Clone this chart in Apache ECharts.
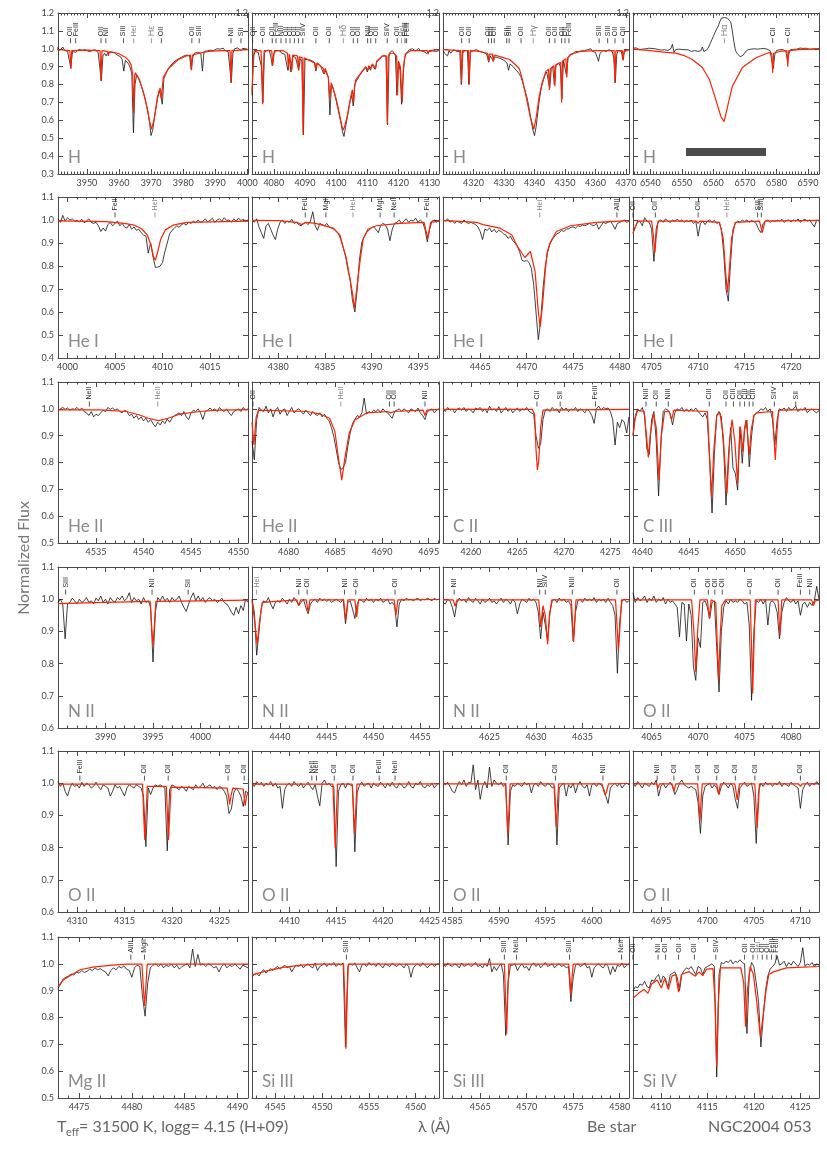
<!DOCTYPE html>
<html>
<head>
<meta charset="utf-8">
<script src="https://cdn.jsdelivr.net/npm/echarts@6/dist/echarts.min.js"></script>
<style>
  html, body { margin: 0; background: #fff; }
  #chart { width: 827px; height: 1168px; }
</style>
</head>
<body>
<div id="chart"></div>
<script>
// ---- panel titles and wavelength windows (Angstrom) ----
const panelNames = ['H', 'H', 'H', 'H', 'He I', 'He I', 'He I', 'He I', 'He II', 'He II', 'C II', 'C III',
  'N II', 'N II', 'N II', 'O II', 'O II', 'O II', 'O II', 'O II', 'Mg II', 'Si III', 'Si III', 'Si IV'];
const xRanges = [[3941, 4000.2], [4073, 4133], [4310, 4371], [6534.5, 6593.5],
  [3999, 4019], [4377.2, 4397.2], [4461, 4481], [4703, 4723],
  [4531, 4551], [4676.1, 4696.1], [4257, 4277], [4639, 4659],
  [3985, 4005], [4437, 4457], [4620, 4640], [4063, 4083],
  [4308, 4328], [4406, 4426], [4584, 4604], [4692, 4712],
  [4473, 4491], [4542.5, 4562.5], [4561, 4581], [4107, 4127]];
const yRanges = [[0.3, 1.2], [0.4, 1.1], [0.5, 1.1], [0.6, 1.1], [0.6, 1.1], [0.5, 1.1]];

// observed spectra: start wavelength and step, fluxes in units of 1/1000
const obsGrid = [[3940, 0.5], [4073, 0.5], [4310, 0.5], [6534.5, 0.5],
  [3999, 0.25], [4377.2, 0.25], [4461, 0.25], [4703, 0.25],
  [4531, 0.25], [4676.1, 0.25], [4257, 0.25], [4639, 0.25],
  [3985, 0.25], [4437, 0.25], [4620, 0.25], [4063, 0.25],
  [4308, 0.25], [4406, 0.25], [4584, 0.25], [4692, 0.25],
  [4473, 0.25], [4542.5, 0.25], [4561, 0.25], [4107, 0.25]];

const hEpsObs = [
  1000, 993, 1005, 990, 998, 1010, 992, 995, 985, 990,
  890, 985, 995, 980, 990, 996, 985, 992, 987, 995,
  990, 985, 993, 988, 990, 995, 985, 980, 975, 820,
  960, 975, 960, 978, 985, 980, 975, 978, 970, 965,
  962, 955, 940, 875, 935, 930, 915, 895, 860, 530,
  800, 855, 840, 815, 790, 765, 730, 690, 645, 590,
  515, 545, 610, 665, 720, 765, 740, 690, 835, 855,
  875, 890, 905, 912, 925, 930, 938, 945, 948, 955,
  958, 962, 965, 966, 960, 885, 955, 975, 978, 980,
  983, 975, 875, 985, 990, 988, 995, 992, 998, 990,
  995, 1000, 992, 998, 995, 1003, 990, 997, 985, 900,
  810, 975, 1000, 995, 1005, 998, 990, 1002, 995, 1000,
  998];
const hDelObs = [
  740, 960, 985, 990, 980, 985, 900, 700, 975, 990,
  985, 992, 960, 905, 975, 985, 990, 982, 988, 975,
  985, 970, 960, 880, 955, 870, 960, 955, 950, 940,
  880, 945, 930, 520, 940, 945, 940, 945, 935, 930,
  925, 875, 920, 915, 905, 900, 860, 880, 870, 840,
  630, 800, 780, 750, 710, 670, 630, 590, 540, 510,
  560, 610, 660, 710, 740, 680, 800, 820, 810, 850,
  860, 875, 885, 895, 870, 900, 880, 910, 915, 885,
  925, 935, 945, 955, 960, 965, 960, 575, 975, 985,
  990, 980, 965, 740, 930, 880, 690, 860, 950, 975,
  985, 995, 990, 1000, 992, 988, 995, 1002, 990, 995,
  985, 990, 975, 970, 985, 995, 988, 993, 985, 995,
  990];
const hGamObs = [
  990, 975, 985, 960, 990, 975, 985, 995, 990, 985,
  992, 985, 800, 975, 990, 985, 990, 800, 980, 985,
  990, 985, 995, 990, 985, 990, 980, 985, 975, 960,
  925, 960, 945, 930, 955, 960, 950, 955, 945, 940,
  935, 930, 920, 880, 915, 905, 900, 895, 880, 870,
  860, 845, 820, 790, 760, 730, 690, 640, 590, 545,
  515, 560, 630, 700, 760, 800, 830, 855, 870, 860,
  780, 885, 900, 800, 905, 915, 920, 900, 720, 935,
  945, 850, 950, 965, 975, 970, 980, 985, 990, 985,
  992, 988, 995, 990, 985, 995, 990, 1000, 985, 990,
  980, 975, 930, 975, 985, 990, 995, 985, 990, 995,
  990, 985, 950, 810, 970, 990, 995, 985, 940, 985,
  995, 990, 995];
const hAlpObs = [
  1003, 998, 1005, 1000, 995, 1002, 998, 1006, 1000, 996,
  1003, 997, 1002, 995, 1000, 1004, 996, 999, 993, 1000,
  995, 1002, 990, 996, 1000, 1025, 980, 995, 990, 998,
  992, 996, 990, 995, 988, 994, 992, 985, 993, 990,
  995, 986, 992, 988, 1010, 985, 990, 995, 1010, 1030,
  1050, 1070, 1090, 1110, 1125, 1150, 1170, 1160, 1175, 1165,
  1170, 1160, 1150, 1100, 1040, 990, 975, 970, 955, 950,
  965, 980, 985, 995, 990, 998, 993, 1000, 995, 998,
  992, 1000, 996, 1002, 995, 998, 993, 990, 935, 890,
  970, 990, 998, 995, 1000, 996, 1000, 985, 935, 975,
  995, 1000, 997, 1003, 998, 1000, 1004, 998, 1002, 999,
  1003, 1000, 997, 1002, 999, 1003, 1000, 998, 1001];
const he4009Obs = [
  1005, 990, 1020, 995, 1010, 1000, 1005, 995, 998, 992, 1003, 988,
  995, 1005, 990, 985, 990, 975, 950, 965, 952, 980, 990, 975,
  985, 995, 975, 985, 970, 965, 980, 960, 970, 955, 960, 945,
  935, 930, 856, 900, 840, 794, 795, 800, 815, 863, 900, 940,
  955, 964, 975, 968, 980, 985, 978, 990, 985, 995, 988, 1000,
  990, 995, 1005, 992, 998, 1008, 990, 1000, 1005, 995, 1010, 998,
  1000, 990, 1005, 995, 1008, 998, 1003, 995, 1000];
const he4388Obs = [
  1000, 990, 1005, 970, 945, 920, 975, 985, 960, 935, 915, 960,
  990, 1000, 985, 995, 990, 1003, 985, 990, 980, 975, 985, 990,
  980, 995, 1036, 975, 955, 985, 980, 975, 985, 970, 965, 960,
  950, 940, 915, 880, 845, 785, 740, 650, 600, 700, 830, 905,
  925, 945, 955, 965, 970, 960, 945, 975, 985, 980, 960, 910,
  960, 985, 990, 1000, 985, 995, 1005, 990, 1000, 995, 1008, 990,
  1000, 990, 960, 905, 960, 995, 1000, 990, 1000];
const he4471Obs = [
  1000, 995, 1005, 990, 998, 985, 995, 990, 985, 1000, 990, 985,
  990, 985, 980, 970, 950, 915, 960, 955, 965, 948, 960, 945,
  955, 950, 940, 935, 920, 930, 910, 900, 885, 860, 825, 820,
  825, 815, 790, 720, 600, 480, 560, 700, 800, 860, 895, 915,
  930, 940, 945, 955, 950, 960, 962, 968, 970, 965, 975, 972,
  978, 975, 980, 985, 978, 975, 985, 960, 975, 990, 985, 990,
  995, 980, 960, 985, 990, 995, 1000, 990, 995];
const he4713Obs = [
  945, 970, 990, 995, 975, 1010, 995, 990, 960, 820, 965, 995,
  1000, 990, 1005, 995, 990, 1000, 995, 1003, 995, 1000, 990, 998,
  993, 1000, 985, 995, 930, 985, 995, 980, 995, 1000, 990, 998,
  985, 990, 960, 860, 700, 647, 820, 960, 985, 995, 990, 1000,
  993, 1000, 990, 998, 993, 985, 960, 945, 985, 995, 1000, 990,
  998, 993, 1000, 995, 1003, 990, 998, 1000, 992, 1000, 995, 1005,
  990, 998, 1003, 995, 1000, 985, 970, 1000, 995];
const he4542Obs = [
  995, 1000, 1005, 998, 1003, 995, 1000, 998, 1005, 995, 1003, 990,
  985, 975, 990, 970, 980, 975, 985, 995, 990, 1005, 998, 1003,
  995, 1000, 990, 985, 995, 990, 975, 980, 965, 975, 960, 970,
  955, 965, 950, 960, 945, 933, 950, 940, 955, 945, 962, 950,
  965, 975, 980, 985, 975, 990, 970, 960, 985, 995, 990, 1000,
  985, 960, 990, 995, 1003, 995, 1000, 990, 1005, 995, 990, 1000,
  985, 975, 990, 995, 1000, 990, 1005, 995, 1000];
const he4686Obs = [
  880, 810, 960, 1005, 995, 990, 1010, 985, 1000, 970, 995, 1005,
  980, 995, 1000, 975, 990, 1005, 985, 995, 1000, 990, 980, 995,
  985, 975, 990, 980, 975, 985, 970, 980, 965, 955, 930, 896,
  850, 800, 774, 780, 800, 860, 910, 945, 960, 975, 970, 985,
  1040, 980, 990, 985, 995, 990, 998, 985, 1000, 990, 985, 975,
  965, 990, 995, 1000, 990, 1000, 993, 985, 1000, 995, 990, 1003,
  985, 975, 960, 990, 995, 1000, 985, 995, 1000];
const c4267Obs = [
  1000, 990, 1005, 995, 1000, 985, 998, 1003, 995, 1005, 990, 1000,
  995, 985, 1003, 998, 1005, 990, 1000, 985, 1010, 995, 1000, 990,
  1008, 985, 995, 1005, 990, 1000, 985, 995, 1003, 990, 1000, 995,
  1005, 990, 985, 980, 900, 853, 870, 960, 995, 1000, 990, 1005,
  995, 1000, 985, 1005, 995, 1003, 990, 1000, 995, 1005, 990, 1000,
  995, 985, 1000, 990, 975, 946, 1000, 1010, 995, 1005, 1000, 1003,
  990, 960, 865, 950, 930, 960, 950, 910, 970];
const c4647Obs = [
  900, 975, 1000, 990, 1005, 975, 850, 830, 960, 990, 880, 675,
  880, 990, 1000, 995, 980, 940, 985, 1000, 995, 1005, 990, 1000,
  990, 1000, 993, 1003, 990, 980, 970, 985, 960, 800, 612, 830,
  975, 990, 970, 850, 641, 820, 930, 780, 760, 697, 930, 797,
  920, 958, 784, 900, 975, 985, 990, 1000, 995, 1005, 990, 1000,
  960, 865, 960, 1000, 995, 1003, 990, 1005, 995, 1000, 1010, 990,
  1000, 995, 1005, 985, 995, 1000, 990, 985, 995];
const n3995Obs = [
  990, 1000, 985, 877, 985, 990, 1003, 995, 985, 1000, 990, 995,
  1005, 990, 995, 985, 1003, 995, 1010, 990, 1000, 985, 1005, 995,
  990, 1005, 998, 1010, 995, 1003, 1020, 990, 1005, 995, 1000, 985,
  1005, 990, 995, 975, 805, 960, 1005, 995, 1010, 995, 1003, 990,
  1005, 995, 1000, 1010, 990, 975, 962, 985, 1005, 1020, 995, 1010,
  995, 1005, 990, 1000, 1005, 995, 1000, 990, 995, 1003, 990, 985,
  975, 960, 950, 975, 955, 980, 965, 1000, 990];
const n4447Obs = [
  1000, 960, 826, 900, 975, 995, 990, 1005, 985, 970, 990, 995,
  990, 1003, 995, 985, 1000, 990, 1005, 995, 980, 990, 1000, 975,
  955, 985, 995, 1000, 990, 1003, 995, 1000, 993, 1000, 990, 995,
  1000, 995, 990, 1000, 924, 990, 995, 970, 940, 985, 1000, 995,
  990, 1003, 995, 1000, 990, 1000, 995, 1003, 990, 995, 1000, 985,
  990, 980, 914, 985, 1000, 995, 1003, 998, 1000, 995, 1000, 1003,
  995, 1000, 998, 1003, 1000, 995, 1003, 998, 1000];
const n4630Obs = [
  990, 985, 1000, 995, 975, 945, 990, 1003, 995, 1000, 990, 1005,
  995, 990, 1003, 995, 985, 1000, 990, 995, 1003, 990, 995, 985,
  995, 1003, 990, 1000, 995, 985, 1000, 990, 955, 985, 1000, 995,
  990, 1003, 995, 1000, 990, 960, 877, 960, 920, 870, 960, 995,
  1000, 990, 1003, 995, 1000, 990, 995, 980, 870, 960, 995, 1000,
  990, 1003, 995, 1000, 995, 1005, 990, 1000, 995, 1000, 990, 1003,
  990, 980, 950, 770, 930, 995, 1000, 990, 995];
const o4072Obs = [
  1020, 990, 1005, 995, 1000, 1010, 990, 1003, 995, 1010, 990, 1000,
  995, 1005, 985, 1000, 990, 995, 985, 975, 883, 990, 985, 870,
  985, 950, 790, 748, 880, 850, 990, 995, 975, 940, 990, 995,
  850, 712, 900, 975, 995, 985, 1000, 990, 995, 990, 1000, 995,
  985, 990, 920, 686, 900, 995, 990, 1000, 985, 1000, 920, 990,
  995, 985, 960, 877, 960, 990, 1005, 995, 990, 1000, 985, 995,
  950, 985, 990, 975, 990, 980, 995, 1040, 1000];
const o4317Obs = [
  1005, 990, 1000, 975, 960, 985, 1000, 990, 995, 985, 1003, 990,
  1000, 995, 985, 990, 1003, 990, 980, 995, 990, 985, 960, 975,
  995, 985, 990, 975, 960, 985, 995, 990, 985, 995, 990, 985,
  960, 803, 985, 965, 985, 995, 990, 995, 990, 985, 790, 980,
  995, 990, 985, 980, 990, 985, 975, 990, 985, 980, 995, 985,
  990, 1000, 985, 990, 995, 985, 990, 980, 990, 985, 975, 960,
  906, 920, 970, 985, 975, 960, 928, 975, 970];
const o4415Obs = [
  1000, 990, 1005, 995, 1003, 990, 1000, 995, 1005, 990, 1000, 985,
  990, 922, 980, 995, 1000, 990, 1005, 995, 990, 1000, 985, 995,
  1003, 990, 980, 995, 960, 930, 1000, 1010, 995, 1000, 990, 990,
  741, 975, 995, 1000, 985, 1000, 995, 990, 787, 970, 995, 1003,
  990, 998, 1000, 985, 1000, 993, 990, 1003, 995, 985, 1000, 990,
  1003, 990, 985, 1000, 995, 985, 990, 1005, 990, 985, 1000, 995,
  1005, 990, 985, 995, 990, 1000, 985, 995, 1000];
const o4591Obs = [
  1000, 995, 1003, 990, 975, 970, 990, 1005, 995, 1010, 990, 1003,
  1000, 1057, 980, 1010, 950, 990, 1005, 985, 1050, 990, 1010, 1000,
  995, 1003, 990, 1000, 808, 975, 995, 990, 1000, 995, 990, 1003,
  995, 1000, 970, 995, 1000, 990, 1005, 995, 990, 1000, 995, 985,
  990, 808, 985, 995, 1000, 960, 995, 985, 1000, 970, 995, 1005,
  990, 985, 995, 960, 995, 1000, 990, 1000, 995, 985, 960, 937,
  985, 995, 1000, 990, 1000, 985, 995, 1000, 995];
const o4705Obs = [
  1000, 990, 1005, 995, 985, 1000, 995, 990, 1003, 995, 1010, 960,
  990, 1000, 985, 995, 1003, 990, 965, 980, 1000, 1010, 995, 990,
  985, 990, 985, 980, 940, 844, 960, 990, 995, 1000, 985, 995,
  985, 965, 990, 1003, 995, 985, 1000, 990, 950, 922, 985, 995,
  1003, 990, 995, 1000, 960, 813, 975, 1000, 990, 1003, 995, 1000,
  990, 1000, 995, 1005, 990, 1000, 995, 990, 1003, 995, 990, 985,
  922, 980, 995, 1003, 990, 1000, 995, 1005, 995];
const mg4481Obs = [
  908, 925, 944, 950, 955, 962, 958, 970, 965, 975, 968, 972,
  980, 975, 985, 978, 982, 975, 970, 955, 975, 985, 978, 990,
  985, 992, 980, 975, 950, 985, 995, 990, 880, 805, 930, 985,
  995, 1000, 990, 1000, 985, 995, 990, 1000, 985, 995, 980, 990,
  995, 1000, 985, 1055, 990, 1035, 995, 1000, 990, 1000, 995, 985,
  990, 970, 990, 1000, 985, 995, 990, 1000, 990, 980, 995, 990,
  985];
const si4553Obs = [
  953, 960, 965, 955, 970, 978, 965, 975, 982, 975, 985, 990,
  980, 988, 995, 985, 990, 970, 985, 995, 990, 998, 985, 995,
  1000, 990, 985, 1003, 975, 990, 995, 1003, 990, 1000, 995, 1005,
  990, 1000, 995, 1003, 690, 990, 1000, 995, 1003, 985, 970, 995,
  1000, 990, 1005, 995, 1000, 990, 1003, 995, 985, 1000, 995, 990,
  1003, 995, 990, 1000, 995, 985, 1000, 990, 950, 985, 995, 1000,
  990, 1003, 995, 985, 995, 1000, 990, 998, 1000];
const si4568Obs = [
  1000, 990, 1003, 995, 990, 1000, 995, 985, 1003, 990, 995, 1000,
  990, 995, 1005, 990, 995, 985, 1000, 990, 1020, 970, 990, 975,
  990, 1000, 960, 733, 930, 995, 995, 1000, 975, 990, 1000, 985,
  990, 975, 995, 1003, 990, 1000, 985, 995, 1005, 990, 995, 1000,
  985, 995, 1000, 990, 995, 985, 990, 859, 950, 995, 1000, 990,
  995, 1003, 985, 990, 950, 985, 995, 1000, 990, 985, 1000, 990,
  960, 990, 970, 995, 990, 1003, 985, 995, 1000];
const si4116Obs = [
  900, 915, 910, 925, 920, 935, 915, 910, 940, 935, 950, 960,
  930, 955, 945, 910, 960, 965, 970, 950, 900, 960, 975, 985,
  980, 990, 975, 960, 990, 985, 960, 985, 990, 995, 1000, 990,
  578, 960, 1005, 1000, 1010, 1005, 1015, 1000, 1010, 1005, 1015, 1005,
  1000, 740, 960, 1005, 990, 930, 860, 690, 800, 900, 955, 980,
  990, 1000, 1030, 995, 1000, 1010, 990, 1005, 995, 1010, 1000, 990,
  1005, 1060, 990, 1000, 995, 1005, 990, 1000, 995];

// model spectra: [wavelength, normalized flux]
const hEpsModel = [[3940, 0.997], [3944.7, 0.99], [3945, 0.89], [3945.3, 0.99], [3950, 0.993], [3954.1, 0.99], [3954.4, 0.82], [3954.7, 0.99],
  [3956.5, 0.985], [3956.7, 0.96], [3956.9, 0.983], [3958, 0.982], [3960, 0.972], [3962, 0.953], [3963, 0.935], [3963.8, 0.91], [3964.3, 0.85],
  [3964.6, 0.64], [3964.9, 0.85], [3965.1, 0.866], [3966.4, 0.826], [3968, 0.73], [3969, 0.65], [3969.6, 0.59], [3970.1, 0.55], [3970.9, 0.6],
  [3972, 0.73], [3972.8, 0.78], [3973.0, 0.76], [3973.25, 0.72], [3973.5, 0.78], [3973.8, 0.84], [3975.4, 0.89], [3978.5, 0.94], [3981, 0.96],
  [3982.3, 0.965], [3982.6, 0.88], [3982.9, 0.965], [3985, 0.975], [3988, 0.985], [3992, 0.99], [3994.6, 0.99], [3994.9, 0.81], [3995.2, 0.99], [4000.2, 0.995]];
const hDelModel = [[4073, 0.76], [4073.3, 0.9], [4073.7, 0.99], [4075.9, 0.99], [4076.2, 0.85], [4076.4, 0.69], [4076.6, 0.85], [4076.9, 0.99],
  [4079.3, 0.99], [4079.5, 0.95], [4079.7, 0.91], [4079.9, 0.95], [4080.2, 0.99], [4082.9, 0.99], [4084.4, 0.975], [4084.7, 0.88], [4085.0, 0.97],
  [4085.5, 0.97], [4085.8, 0.88], [4086.1, 0.965], [4087.6, 0.96], [4087.9, 0.88], [4088.2, 0.955], [4089.1, 0.95], [4089.4, 0.52], [4089.7, 0.95],
  [4090.3, 0.95], [4093.2, 0.92], [4093.5, 0.88], [4093.8, 0.92], [4095.9, 0.89], [4096.2, 0.86], [4096.5, 0.89], [4097.5, 0.84], [4098.0, 0.72],
  [4098.4, 0.81], [4099, 0.78], [4100, 0.72], [4101, 0.64], [4101.8, 0.57], [4102.3, 0.545], [4102.8, 0.57], [4103.6, 0.627], [4104.7, 0.732],
  [4105.2, 0.77], [4105.6, 0.7], [4105.9, 0.79], [4106.3, 0.826], [4107.4, 0.853], [4109.5, 0.9], [4110.1, 0.88], [4110.5, 0.905], [4111.1, 0.89],
  [4111.6, 0.915], [4112.7, 0.89], [4113.0, 0.93], [4114.8, 0.96], [4116.1, 0.96], [4116.4, 0.58], [4116.7, 0.96], [4117.5, 0.975], [4118.5, 0.975],
  [4119.4, 0.96], [4119.7, 0.74], [4120.0, 0.93], [4120.6, 0.9], [4121.2, 0.7], [4121.6, 0.9], [4122.2, 0.97], [4124, 0.99], [4129.2, 0.99],
  [4129.5, 0.97], [4129.8, 0.99], [4133, 0.995]];
const hGamModel = [[4310, 0.995], [4315.8, 0.99], [4316.1, 0.81], [4316.4, 0.99], [4318.3, 0.99], [4318.6, 0.8], [4318.9, 0.99], [4322, 0.985],
  [4324.6, 0.975], [4324.9, 0.93], [4325.2, 0.97], [4326.2, 0.97], [4326.5, 0.93], [4326.8, 0.965], [4329, 0.955], [4331.8, 0.94], [4333.5, 0.915],
  [4335, 0.89], [4336, 0.83], [4337.3, 0.73], [4338.6, 0.62], [4339.8, 0.55], [4340.6, 0.62], [4341.5, 0.73], [4342.5, 0.81], [4343.8, 0.875],
  [4344.6, 0.885], [4344.9, 0.77], [4345.2, 0.89], [4346.4, 0.905], [4346.7, 0.79], [4347.0, 0.91], [4348.6, 0.925], [4348.9, 0.7], [4349.2, 0.93],
  [4350.3, 0.945], [4350.6, 0.84], [4350.9, 0.95], [4352, 0.97], [4355, 0.985], [4360, 0.99], [4366.1, 0.99], [4366.4, 0.81], [4366.7, 0.99],
  [4368.8, 0.99], [4369.1, 0.935], [4369.4, 0.99], [4371, 0.995]];
const hAlpModel = [[6534.5, 0.998], [6540, 0.99], [6545, 0.98], [6548.1, 0.976], [6551, 0.96], [6553.3, 0.94], [6556.5, 0.895], [6558.7, 0.83],
  [6560.8, 0.714], [6562.4, 0.62], [6563.4, 0.593], [6564.5, 0.677], [6566, 0.79], [6569.2, 0.895], [6573.5, 0.95], [6577.5, 0.978], [6578.5, 0.975],
  [6578.8, 0.866], [6579.1, 0.975], [6581, 0.985], [6583.3, 0.99], [6583.6, 0.9], [6583.9, 0.99], [6587, 0.995], [6593.5, 0.999]];
const he4009Model = [[3999, 0.996], [4004, 0.993], [4006, 0.985], [4007, 0.978], [4007.8, 0.962], [4008.4, 0.935], [4008.8, 0.89], [4009.05, 0.84],
  [4009.25, 0.825], [4009.5, 0.863], [4009.8, 0.915], [4010.3, 0.957], [4011.2, 0.979], [4012.6, 0.99], [4019, 0.995]];
const he4388Model = [[4377.2, 0.998], [4380, 0.997], [4382, 0.99], [4382.5, 0.98], [4383, 0.99], [4384, 0.985], [4385.9, 0.965], [4386.6, 0.935],
  [4387.3, 0.83], [4387.7, 0.74], [4387.95, 0.68], [4388.15, 0.615], [4388.4, 0.7], [4388.75, 0.82], [4389.1, 0.92], [4389.6, 0.96], [4390.5, 0.975],
  [4393, 0.985], [4395.6, 0.99], [4396.0, 0.92], [4396.3, 0.99], [4397.2, 0.995]];
const he4471Model = [[4461, 0.998], [4464.6, 0.99], [4465.3, 0.98], [4467.1, 0.965], [4468.4, 0.935], [4469.0, 0.885], [4469.8, 0.837], [4470.4, 0.863],
  [4470.9, 0.777], [4471.25, 0.6], [4471.45, 0.535], [4471.7, 0.63], [4472.0, 0.78], [4472.2, 0.86], [4472.5, 0.9], [4473.2, 0.95], [4474.7, 0.975],
  [4477.5, 0.99], [4481, 0.997]];
const he4713Model = [[4703, 0.94], [4703.15, 0.96], [4703.5, 0.995], [4705.0, 0.995], [4705.2, 0.93], [4705.35, 0.858], [4705.5, 0.93], [4705.7, 0.995],
  [4709.8, 0.995], [4710.0, 0.985], [4710.2, 0.995], [4712.3, 0.99], [4712.7, 0.92], [4712.95, 0.78], [4713.15, 0.685], [4713.35, 0.78], [4713.6, 0.92],
  [4714, 0.99], [4716.6, 0.995], [4716.9, 0.945], [4717.2, 0.995], [4723, 0.998]];
const he4542Model = [[4531, 0.996], [4535.4, 0.996], [4538.2, 0.99], [4539.6, 0.977], [4540.5, 0.965], [4541.6, 0.956], [4542.6, 0.965], [4543.8, 0.98],
  [4545.9, 0.99], [4548, 0.995], [4551, 0.997]];
const he4686Model = [[4676.1, 0.95], [4676.3, 0.865], [4676.55, 0.97], [4676.8, 0.995], [4682, 0.99], [4683.4, 0.98], [4684.4, 0.965], [4684.97, 0.915],
  [4685.3, 0.828], [4685.7, 0.734], [4686.0, 0.809], [4686.5, 0.91], [4687.1, 0.958], [4688.4, 0.985], [4690.6, 0.99], [4690.9, 0.985], [4691.3, 0.99],
  [4694.4, 0.995], [4694.6, 0.975], [4694.8, 0.995], [4696.1, 0.998]];
const c4267Model = [[4257, 0.998], [4266.6, 0.998], [4266.85, 0.98], [4267.0, 0.85], [4267.15, 0.772], [4267.3, 0.81], [4267.5, 0.93], [4267.75, 0.995],
  [4277, 0.998]];
const c4647Model = [[4639, 0.902], [4639.2, 0.96], [4639.5, 0.995], [4640.2, 0.99], [4640.45, 0.9], [4640.65, 0.819], [4640.85, 0.9], [4641.2, 0.983],
  [4641.5, 0.93], [4641.8, 0.734], [4642.05, 0.9], [4642.4, 0.99], [4642.9, 0.99], [4643.15, 0.96], [4643.4, 0.995], [4647.0, 0.99], [4647.2, 0.85],
  [4647.45, 0.672], [4647.7, 0.85], [4648.0, 0.975], [4648.35, 0.985], [4648.7, 0.9], [4649.1, 0.685], [4649.4, 0.88], [4649.65, 0.96], [4649.95, 0.88],
  [4650.25, 0.722], [4650.5, 0.935], [4650.6, 0.92], [4650.8, 0.84], [4651.0, 0.93], [4651.15, 0.958], [4651.3, 0.91], [4651.5, 0.828], [4651.7, 0.92],
  [4652.0, 0.975], [4652.3, 0.985], [4654.0, 0.99], [4654.15, 0.9], [4654.3, 0.809], [4654.45, 0.9], [4654.65, 0.995], [4659, 0.998]];
const n3995Model = [[3985, 0.986], [3990, 0.99], [3994.7, 0.993], [3994.85, 0.92], [3995.0, 0.857], [3995.15, 0.92], [3995.3, 0.993], [4000, 0.995],
  [4005, 0.997]];
const n4447Model = [[4437, 0.995], [4437.3, 0.93], [4437.55, 0.86], [4437.8, 0.93], [4438.1, 0.99], [4441.8, 0.998], [4442.0, 0.98], [4442.2, 0.998],
  [4442.8, 0.998], [4443.0, 0.96], [4443.2, 0.998], [4446.8, 0.998], [4447.03, 0.934], [4447.25, 0.998], [4448.0, 0.998], [4448.2, 0.945],
  [4448.4, 0.998], [4452.2, 0.998], [4452.4, 0.95], [4452.6, 0.998], [4457, 0.999]];
const n4630Model = [[4620, 0.998], [4621.1, 0.998], [4621.3, 0.978], [4621.5, 0.998], [4630.3, 0.998], [4630.5, 0.914], [4630.75, 0.98], [4631.0, 0.95],
  [4631.25, 0.86], [4631.45, 0.95], [4631.7, 0.998], [4633.8, 0.998], [4634.05, 0.867], [4634.3, 0.998], [4638.55, 0.998], [4638.75, 0.9],
  [4638.85, 0.84], [4639.0, 0.9], [4639.2, 0.998], [4640, 0.999]];
const o4072Model = [[4063, 0.998], [4069.3, 0.998], [4069.55, 0.9], [4069.75, 0.774], [4069.95, 0.9], [4070.2, 0.998], [4071.0, 0.998], [4071.2, 0.94],
  [4071.4, 0.998], [4071.9, 0.99], [4072.05, 0.87], [4072.2, 0.748], [4072.35, 0.87], [4072.55, 0.98], [4072.75, 0.975], [4072.95, 0.998],
  [4075.6, 0.998], [4075.75, 0.85], [4075.87, 0.707], [4076.0, 0.85], [4076.15, 0.998], [4078.6, 0.998], [4078.8, 0.888], [4079.0, 0.998],
  [4082.2, 0.998], [4082.4, 0.98], [4082.6, 0.995], [4083, 0.997]];
const o4317Model = [[4308, 0.997], [4316.9, 0.997], [4317.02, 0.9], [4317.14, 0.824], [4317.26, 0.9], [4317.4, 0.99], [4319.4, 0.99], [4319.52, 0.9],
  [4319.63, 0.824], [4319.75, 0.9], [4319.9, 0.988], [4325.8, 0.985], [4325.95, 0.96], [4326.07, 0.934], [4326.2, 0.96], [4326.4, 0.985],
  [4327.5, 0.982], [4327.6, 0.955], [4327.7, 0.93], [4327.85, 0.96], [4328, 0.97]];
const o4415Model = [[4406, 0.997], [4414.65, 0.997], [4414.78, 0.9], [4414.9, 0.798], [4415.02, 0.9], [4415.15, 0.997], [4416.72, 0.997],
  [4416.85, 0.92], [4416.97, 0.844], [4417.1, 0.92], [4417.22, 0.997], [4426, 0.998]];
const o4591Model = [[4584, 0.998], [4590.72, 0.998], [4590.85, 0.92], [4590.97, 0.841], [4591.1, 0.92], [4591.22, 0.998], [4595.93, 0.998],
  [4596.05, 0.93], [4596.18, 0.865], [4596.3, 0.93], [4596.43, 0.998], [4601.1, 0.998], [4601.3, 0.975], [4601.45, 0.963], [4601.6, 0.975],
  [4601.8, 0.998], [4604, 0.999]];
const o4705Model = [[4692, 0.998], [4694.55, 0.998], [4694.7, 0.985], [4694.85, 0.998], [4696.2, 0.998], [4696.4, 0.975], [4696.6, 0.998],
  [4698.95, 0.998], [4699.07, 0.95], [4699.2, 0.883], [4699.33, 0.95], [4699.45, 0.998], [4701.0, 0.998], [4701.2, 0.965], [4701.4, 0.998],
  [4702.95, 0.998], [4703.1, 0.97], [4703.2, 0.948], [4703.3, 0.97], [4703.45, 0.998], [4705.1, 0.998], [4705.22, 0.93], [4705.35, 0.862],
  [4705.48, 0.93], [4705.6, 0.998], [4709.8, 0.998], [4710.0, 0.99], [4710.2, 0.998], [4712, 0.998]];
const mg4481Model = [[4473, 0.915], [4473.5, 0.94], [4474.1, 0.955], [4475.1, 0.978], [4476.3, 0.988], [4477.9, 0.994], [4479.5, 0.999],
  [4480.95, 0.999], [4481.07, 0.92], [4481.2, 0.843], [4481.33, 0.92], [4481.45, 0.999], [4491, 0.999]];
const si4553Model = [[4542.5, 0.959], [4544.1, 0.974], [4545.8, 0.987], [4547.6, 0.994], [4549.5, 0.999], [4552.3, 0.999], [4552.43, 0.864],
  [4552.55, 0.684], [4552.67, 0.864], [4552.8, 0.999], [4562.5, 0.999]];
const si4568Model = [[4561, 0.999], [4567.6, 0.999], [4567.72, 0.88], [4567.84, 0.74], [4567.96, 0.88], [4568.08, 0.999], [4574.52, 0.999],
  [4574.64, 0.95], [4574.76, 0.884], [4574.88, 0.95], [4575.0, 0.999], [4581, 0.999]];
const si4116Model = [[4107, 0.872], [4107.6, 0.89], [4108.2, 0.905], [4108.6, 0.89], [4109.0, 0.925], [4109.6, 0.94], [4110.05, 0.91], [4110.4, 0.946],
  [4110.8, 0.904], [4111.2, 0.955], [4111.6, 0.96], [4111.9, 0.894], [4112.2, 0.96], [4113.0, 0.971], [4113.7, 0.954], [4114.1, 0.97], [4114.5, 0.956],
  [4114.9, 0.98], [4115.6, 0.982], [4115.83, 0.85], [4116.0, 0.616], [4116.17, 0.85], [4116.4, 0.985], [4118.6, 0.985], [4118.9, 0.93],
  [4119.1, 0.766], [4119.3, 0.9], [4119.6, 0.99], [4119.95, 0.96], [4120.3, 0.86], [4120.7, 0.728], [4121.0, 0.81], [4121.3, 0.9], [4121.6, 0.96],
  [4122.1, 0.97], [4123.5, 0.985], [4127, 0.99]];

// line identifications: [ion, wavelength]
const hEpsLines = [['OII', 3944.9], ['FeIII', 3946.5], ['OII', 3954.4], ['NII', 3955.9], ['SIII', 3961.4], ['HeI', 3964.6], ['Hε', 3970.1],
  ['OII', 3973.2], ['OII', 3982.7], ['SIII', 3985.0], ['NII', 3994.9], ['SII', 3998.0]];
const hDelLines = [['OII', 4073.2], ['OII', 4076.4], ['OII', 4079.5], ['FeIII', 4080.7], ['NIII', 4082.3], ['OII', 4083.9], ['OII', 4085.2],
  ['OII', 4086.6], ['OII', 4087.9], ['SiIV', 4089.3], ['OII', 4093.5], ['OII', 4097.8], ['Hδ', 4102.3], ['OII', 4105.5], ['OII', 4106.9],
  ['NIII', 4110.1], ['OII', 4111.1], ['OII', 4112.7], ['SiIV', 4116.4], ['OII', 4119.6], ['HeI', 4121.0], ['FeIII', 4122.1], ['FeIII', 4122.6]];
const hGamLines = [['OII', 4316.1], ['OII', 4318.6], ['OII', 4324.9], ['OII', 4325.9], ['OII', 4326.8], ['SII', 4330.9], ['SIII', 4331.7],
  ['OII', 4335.6], ['Hγ', 4339.6], ['OII', 4344.9], ['OII', 4346.7], ['OII', 4348.9], ['OII', 4350.0], ['FeIII', 4351.3], ['SIII', 4361.2],
  ['SIII', 4364.0], ['OII', 4366.4], ['OII', 4369.1]];
const hAlpLines = [['Hα', 6563.5], ['CII', 6578.8], ['CII', 6583.6]];
const he4009Lines = [['FeIII', 4005.0], ['HeI', 4009.2]];
const he4388Lines = [['FeIII', 4382.9], ['MgII', 4385.1], ['HeI', 4388.0], ['MgII', 4390.9], ['NeII', 4392.4], ['FeIII', 4395.9]];
const he4471Lines = [['HeI', 4471.4], ['AlIII', 4479.7]];
const he4713Lines = [['OII', 4703.0], ['OII', 4705.4], ['OII', 4710.0], ['HeI', 4713.1], ['SIII', 4716.4], ['SiIII', 4716.8]];
const he4542Lines = [['NeII', 4534.3], ['HeII', 4541.5]];
const he4686Lines = [['OII', 4676.2], ['HeII', 4685.6], ['OII', 4690.8], ['OII', 4691.3], ['NII', 4694.6]];
const c4267Lines = [['CII', 4267.1], ['SII', 4269.6], ['FeIII', 4273.4]];
const c4647Lines = [['NIII', 4640.4], ['OII', 4641.5], ['NIII', 4642.8], ['CIII', 4647.2], ['OII', 4649.0], ['CIII', 4649.8], ['OII', 4650.5],
  ['CIII', 4651.0], ['OII', 4651.5], ['CIII', 4651.9], ['SiIV', 4654.2], ['SII', 4656.5]];
const n3995Lines = [['SIII', 3985.8], ['NII', 3994.9], ['SII', 3998.7]];
const n4447Lines = [['HeI', 4437.5], ['NII', 4442.0], ['OII', 4442.9], ['NII', 4446.9], ['OII', 4448.1], ['OII', 4452.3]];
const n4630Lines = [['NII', 4621.2], ['NII', 4630.4], ['SiIV', 4631.0], ['NIII', 4633.9], ['OII', 4638.7]];
const o4072Lines = [['OII', 4069.6], ['OII', 4071.1], ['OII', 4071.8], ['OII', 4072.6], ['OII', 4075.6], ['OII', 4078.6], ['FeIII', 4081.0], ['NII', 4082.0]];
const o4317Lines = [['FeIII', 4310.3], ['OII', 4317.1], ['OII', 4319.6], ['OII', 4325.9], ['OII', 4327.6]];
const o4415Lines = [['NeII', 4412.4], ['NeII', 4412.9], ['OII', 4414.8], ['OII', 4416.8], ['FeIII', 4419.6], ['NeII', 4421.3]];
const o4591Lines = [['OII', 4590.8], ['OII', 4596.1], ['NII', 4601.2]];
const o4705Lines = [['NII', 4694.6], ['OII', 4696.4], ['OII', 4699.0], ['OII', 4701.0], ['OII', 4703.0], ['OII', 4705.1], ['OII', 4710.0]];
const mg4481Lines = [['AlIII', 4479.9], ['MgII', 4481.2]];
const si4553Lines = [['SiIII', 4552.6]];
const si4568Lines = [['SiIII', 4567.6], ['NeII', 4568.9], ['SiIII', 4574.6], ['NeII', 4580.2]];
const si4116Lines = [['OII', 4107.0], ['NII', 4109.7], ['OII', 4110.5], ['OII', 4111.9], ['OII', 4113.6], ['SiIV', 4115.9], ['OII', 4119.0],
  ['OII', 4119.9], ['HeI', 4120.4], ['OII', 4120.9], ['OII', 4121.4], ['FeIII', 4121.9], ['FeIII', 4122.4]];

// grey bar drawn in the H-alpha panel
const hAlpBar = [[6551.3, 0.4], [6576.7, 0.445]];

const obsFlux = [hEpsObs, hDelObs, hGamObs, hAlpObs, he4009Obs, he4388Obs, he4471Obs, he4713Obs,
  he4542Obs, he4686Obs, c4267Obs, c4647Obs, n3995Obs, n4447Obs, n4630Obs, o4072Obs,
  o4317Obs, o4415Obs, o4591Obs, o4705Obs, mg4481Obs, si4553Obs, si4568Obs, si4116Obs];
const modelFlux = [hEpsModel, hDelModel, hGamModel, hAlpModel, he4009Model, he4388Model, he4471Model, he4713Model,
  he4542Model, he4686Model, c4267Model, c4647Model, n3995Model, n4447Model, n4630Model, o4072Model,
  o4317Model, o4415Model, o4591Model, o4705Model, mg4481Model, si4553Model, si4568Model, si4116Model];
const lineIds = [hEpsLines, hDelLines, hGamLines, hAlpLines, he4009Lines, he4388Lines, he4471Lines, he4713Lines,
  he4542Lines, he4686Lines, c4267Lines, c4647Lines, n3995Lines, n4447Lines, n4630Lines, o4072Lines,
  o4317Lines, o4415Lines, o4591Lines, o4705Lines, mg4481Lines, si4553Lines, si4568Lines, si4116Lines];

// ---- layout ----
const colLeft = [58, 252, 443, 633];
const colWidth = [190, 187, 186, 186];
const rowTop = [13, 197, 382, 567, 751, 937];
const rowHeight = 161;
const idLevel = [1.045, 1.022, 1.018, 1.022, 1.016, 1.025];
const axisColor = '#4a4a4a';
const textFont = 'Lato, "Open Sans", sans-serif';

function obsPoints(k) {
  const start = obsGrid[k][0], step = obsGrid[k][1];
  return obsFlux[k].map((v, i) => [+(start + i * step).toFixed(3), v / 1000]);
}

// short tick + vertical ion label above each identified line
function idRenderer(names) {
  return function (params, api) {
    const p = api.coord([api.value(0), api.value(1)]);
    const name = names[params.dataIndex];
    const soft = name.charAt(0) === 'H';
    const greek = /^H[αβγδε]$/.test(name);
    const col = soft ? '#808080' : '#2a2a2a';
    return {
      type: 'group',
      children: [
        { type: 'line', shape: { x1: p[0], y1: p[1] - 2.5, x2: p[0], y2: p[1] + 2.5 }, style: { stroke: col, lineWidth: 0.8 } },
        { type: 'text', x: p[0], y: p[1] - 4.5, rotation: Math.PI / 2,
          style: { text: name, fill: col, align: 'left', verticalAlign: 'middle',
            font: (greek ? '9px ' : '7px ') + '"Liberation Sans", sans-serif' } }
      ]
    };
  };
}

const grids = [], xAxes = [], yAxes = [], series = [], graphics = [];

for (let k = 0; k < 24; k++) {
  const r = Math.floor(k / 4), c = k % 4;
  const xmin = xRanges[k][0], xmax = xRanges[k][1];
  const ymin = yRanges[r][0], ymax = yRanges[r][1];
  const span = xmax - xmin;
  const step = span > 30 ? 10 : 5;

  grids.push({ left: colLeft[c], top: rowTop[r], width: colWidth[c], height: rowHeight, containLabel: false, outerBoundsMode: 'none' });

  const lineStyle = { color: axisColor, width: 1 };
  const xBase = {
    type: 'value', gridIndex: k, min: xmin, max: xmax,
    splitNumber: Math.round(span / step), minInterval: step, maxInterval: step,
    splitLine: { show: false },
    axisLine: { show: true, onZero: false, lineStyle: lineStyle },
    axisTick: { show: true, inside: true, length: 5, lineStyle: lineStyle },
    minorTick: { show: true, splitNumber: step, length: 2.5, lineStyle: lineStyle }
  };
  xAxes.push(Object.assign({}, xBase, {
    position: 'bottom',
    axisLabel: {
      show: true, margin: 5, color: '#444', fontSize: 9, fontFamily: textFont,
      formatter: v => (Math.abs(v - xmin) < 1e-6 || Math.abs(v - xmax) < 1e-6 ||
        Math.abs(v / step - Math.round(v / step)) > 1e-6) ? '' : String(Math.round(v))
    }
  }));
  xAxes.push(Object.assign({}, xBase, { position: 'top', axisLabel: { show: false } }));

  const yBase = {
    type: 'value', gridIndex: k, min: ymin, max: ymax, interval: 0.1,
    splitLine: { show: false },
    axisLine: { show: true, onZero: false, lineStyle: lineStyle },
    axisTick: { show: true, inside: true, length: 5, lineStyle: lineStyle }
  };
  yAxes.push(Object.assign({}, yBase, {
    position: 'left',
    axisLabel: {
      show: c === 0 || r === 0, margin: 4, color: '#444', fontSize: 9, fontFamily: textFont,
      formatter: c === 0 ? (v => v.toFixed(1)) : (v => Math.abs(v - ymax) < 1e-6 ? v.toFixed(1) : '')
    }
  }));
  yAxes.push(Object.assign({}, yBase, { position: 'right', axisLabel: { show: false } }));

  series.push({
    type: 'line', xAxisIndex: 2 * k, yAxisIndex: 2 * k, data: obsPoints(k),
    symbol: 'none', showSymbol: false, clip: true, silent: true, z: 2,
    lineStyle: { color: '#111', width: 0.8 }
  });
  const model = {
    type: 'line', xAxisIndex: 2 * k, yAxisIndex: 2 * k, data: modelFlux[k],
    symbol: 'none', showSymbol: false, clip: true, silent: true, z: 3,
    lineStyle: { color: '#ff2200', width: 1.2 }
  };
  if (k === 3) {
    model.markArea = {
      silent: true, itemStyle: { color: '#4d4d4d' },
      data: [[{ coord: hAlpBar[0] }, { coord: hAlpBar[1] }]]
    };
  }
  series.push(model);
  series.push({
    type: 'custom', coordinateSystem: 'cartesian2d', xAxisIndex: 2 * k, yAxisIndex: 2 * k,
    data: lineIds[k].map(l => [l[1], idLevel[r]]),
    renderItem: idRenderer(lineIds[k].map(l => l[0])), silent: true, z: 4
  });

  graphics.push({
    type: 'text', x: colLeft[c] + 10, y: rowTop[r] + rowHeight - 16, z: 10,
    style: { text: panelNames[k], fill: '#8a8a8a', font: '17px ' + textFont, verticalAlign: 'middle' }
  });
}

const footFont = '16px ' + textFont;
graphics.push(
  { type: 'text', x: 57, y: 1127, style: { text: 'T', fill: '#666', font: footFont, verticalAlign: 'middle' } },
  { type: 'text', x: 66, y: 1132, style: { text: 'eff', fill: '#666', font: '11px ' + textFont, verticalAlign: 'middle' } },
  { type: 'text', x: 79, y: 1127, style: { text: '= 31500 K, logg= 4.15 (H+09)', fill: '#666', font: footFont, verticalAlign: 'middle' } },
  { type: 'text', x: 418, y: 1127, style: { text: 'λ (Å)', fill: '#666', font: footFont, verticalAlign: 'middle' } },
  { type: 'text', x: 587, y: 1127, style: { text: 'Be star', fill: '#666', font: footFont, verticalAlign: 'middle' } },
  { type: 'text', x: 708, y: 1127, style: { text: 'NGC2004 053', fill: '#666', font: footFont, verticalAlign: 'middle' } },
  { type: 'text', x: 24, y: 558, rotation: Math.PI / 2,
    style: { text: 'Normalized Flux', fill: '#777', font: footFont, align: 'center', verticalAlign: 'middle' } }
);

const chart = echarts.init(document.getElementById('chart'));
chart.setOption({
  backgroundColor: '#fff',
  animation: false,
  grid: grids,
  xAxis: xAxes,
  yAxis: yAxes,
  series: series,
  graphic: { elements: graphics }
});
</script>
</body>
</html>
